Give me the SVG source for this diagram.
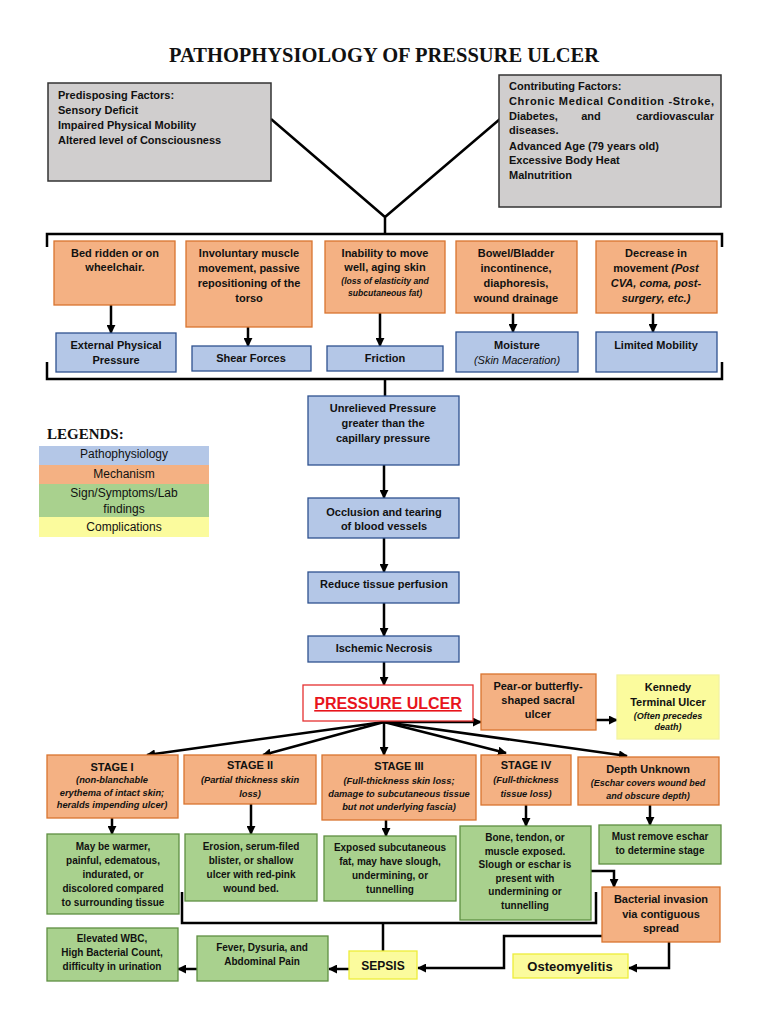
<svg xmlns="http://www.w3.org/2000/svg" width="768" height="1024" viewBox="0 0 768 1024">
<defs>
<marker id="ah" viewBox="0 0 10 10" refX="9" refY="5" markerWidth="9" markerHeight="9" markerUnits="userSpaceOnUse" orient="auto">
<path d="M0,0 L10,5 L0,10 z" fill="#000"/>
</marker>
</defs>
<style>
.gy{fill:#d0cece;stroke:#333;stroke-width:1.5}
.bl{fill:#b4c7e7;stroke:#2f528f;stroke-width:1.3}
.or{fill:#f4b183;stroke:#d9742f;stroke-width:1.3}
.gr{fill:#a9d18e;stroke:#5f8f43;stroke-width:1.3}
.ye{fill:#fbfb9d;stroke:#eded3a;stroke-width:1.3}
.pu{fill:#fff;stroke:#e53030;stroke-width:1.3}
text{font-family:"Liberation Sans",Arial,sans-serif;fill:#111}
.t{font-size:11px;font-weight:bold;text-anchor:middle}
.s{font-size:10px;font-weight:bold;text-anchor:middle}
.l{font-size:11px;font-weight:bold}
.i{font-size:9.3px;font-weight:bold;font-style:italic;text-anchor:middle}
.lg{font-size:12px;text-anchor:middle}
.cn{fill:none;stroke:#000;stroke-width:2.5}
.ar{fill:none;stroke:#000;stroke-width:2.5;marker-end:url(#ah)}
</style>
<rect width="768" height="1024" fill="#fff"/>
<text x="384" y="62" text-anchor="middle" style="font-family:'Liberation Serif','Times New Roman',serif;font-size:20.5px;font-weight:bold">PATHOPHYSIOLOGY OF PRESSURE ULCER</text>

<g id="connectors">
<path class="cn" d="M271,119 L385,217 L500,119 M385,217 V234"/>
<path class="cn" d="M47,247 V234 H722 V247"/>
<path class="cn" d="M47,362 V379 H722 V362 M385,379 V396"/>
<path class="ar" d="M111,305 V333"/>
<path class="ar" d="M248,327 V346"/>
<path class="ar" d="M380,313 V346"/>
<path class="ar" d="M513,313 V332"/>
<path class="ar" d="M653,313 V332"/>
<path class="ar" d="M384,465 V498"/>
<path class="ar" d="M384,538 V572"/>
<path class="ar" d="M384,603 V636"/>
<path class="ar" d="M384,662 V685"/>
<path class="ar" d="M384,722 L147,755"/>
<path class="ar" d="M384,722 L263,755"/>
<path class="ar" d="M384,722 V755"/>
<path class="ar" d="M384,722 L506,753"/>
<path class="ar" d="M384,722 L627,756"/>
<path class="ar" d="M384,722 H481"/>
<path class="ar" d="M596,720 H617"/>
<path class="ar" d="M112,818 V834"/>
<path class="ar" d="M251,804 V834"/>
<path class="ar" d="M386,820 V836"/>
<path class="ar" d="M526,805 V826"/>
<path class="ar" d="M650,805 V825"/>
<path class="ar" d="M591,871 H614 V887"/>
<path class="cn" d="M182,892 V923 H596 V892 M383,923 V951"/>
<path class="ar" d="M349,969 H329"/>
<path class="ar" d="M197,969 H178"/>
<path class="ar" d="M602,936 H504 V968 H418"/>
<path class="ar" d="M669,942 V968 H629"/>
</g>

<g id="predisposing">
<rect class="gy" x="48" y="83" width="223" height="98"/>
<text class="l" x="58" y="99">Predisposing Factors:</text>
<text class="l" x="58" y="114">Sensory Deficit</text>
<text class="l" x="58" y="129">Impaired Physical Mobility</text>
<text class="l" x="58" y="144">Altered level of Consciousness</text>
</g>
<g id="contributing">
<rect class="gy" x="499" y="75" width="222" height="132"/>
<text class="l" x="509" y="90">Contributing Factors:</text>
<text class="l" x="509" y="105" textLength="205" lengthAdjust="spacing">Chronic Medical Condition -Stroke,</text>
<text class="l" x="509" y="120">Diabetes,</text>
<text class="l" x="591" y="120" text-anchor="middle">and</text>
<text class="l" x="714" y="120" text-anchor="end">cardiovascular</text>
<text class="l" x="509" y="134">diseases.</text>
<text class="l" x="509" y="150">Advanced Age (79 years old)</text>
<text class="l" x="509" y="164">Excessive Body Heat</text>
<text class="l" x="509" y="179">Malnutrition</text>
</g>

<g id="bedridden">
<rect class="or" x="54" y="241" width="121" height="64"/>
<text class="t" x="115" y="257">Bed ridden or on</text>
<text class="t" x="115" y="271">wheelchair.</text>
</g>
<g id="involuntary">
<rect class="or" x="186" y="241" width="126" height="86"/>
<text class="t" x="249" y="257">Involuntary muscle</text>
<text class="t" x="249" y="272">movement, passive</text>
<text class="t" x="249" y="287">repositioning of the</text>
<text class="t" x="249" y="302">torso</text>
</g>
<g id="inability">
<rect class="or" x="325" y="241" width="120" height="72"/>
<text class="t" x="385" y="257">Inability to move</text>
<text class="t" x="385" y="271">well, aging skin</text>
<text class="i" x="385" y="284" style="font-size:8.6px">(loss of elasticity and</text>
<text class="i" x="385" y="296" style="font-size:8.6px">subcutaneous fat)</text>
</g>
<g id="bowel">
<rect class="or" x="456" y="241" width="121" height="72"/>
<text class="t" x="516" y="257">Bowel/Bladder</text>
<text class="t" x="516" y="272">incontinence,</text>
<text class="t" x="516" y="287">diaphoresis,</text>
<text class="t" x="516" y="302">wound drainage</text>
</g>
<g id="decrease">
<rect class="or" x="596" y="241" width="121" height="72"/>
<text class="t" x="656" y="257">Decrease in</text>
<text class="t" x="656" y="272">movement <tspan font-style="italic">(Post</tspan></text>
<text class="t" x="656" y="287" font-style="italic">CVA, coma, post-</text>
<text class="t" x="656" y="302" font-style="italic">surgery, etc.)</text>
</g>

<g id="external">
<rect class="bl" x="56" y="333" width="120" height="39"/>
<text class="t" x="116" y="349">External Physical</text>
<text class="t" x="116" y="364">Pressure</text>
</g>
<g id="shear">
<rect class="bl" x="192" y="346" width="119" height="25"/>
<text class="t" x="251" y="362">Shear Forces</text>
</g>
<g id="friction">
<rect class="bl" x="327" y="346" width="116" height="25"/>
<text class="t" x="385" y="362">Friction</text>
</g>
<g id="moisture">
<rect class="bl" x="456" y="332" width="122" height="40"/>
<text class="t" x="517" y="349">Moisture</text>
<text x="517" y="364" text-anchor="middle" style="font-size:11px;font-style:italic">(Skin Maceration)</text>
</g>
<g id="limited">
<rect class="bl" x="596" y="332" width="121" height="40"/>
<text class="t" x="656" y="349">Limited Mobility</text>
</g>

<g id="legend">
<text x="47" y="439" style="font-family:'Liberation Serif','Times New Roman',serif;font-size:15px;font-weight:bold">LEGENDS:</text>
<rect x="39" y="446" width="170" height="19" fill="#b4c7e7"/>
<rect x="39" y="465" width="170" height="19" fill="#f4b183"/>
<rect x="39" y="484" width="170" height="33" fill="#a9d18e"/>
<rect x="39" y="517" width="170" height="20" fill="#fbfb9d"/>
<text class="lg" x="124" y="458">Pathophysiology</text>
<text class="lg" x="124" y="478">Mechanism</text>
<text class="lg" x="124" y="497">Sign/Symptoms/Lab</text>
<text class="lg" x="124" y="513">findings</text>
<text class="lg" x="124" y="531">Complications</text>
</g>

<g id="unrelieved">
<rect class="bl" x="308" y="396" width="151" height="69"/>
<text class="t" x="383" y="412">Unrelieved Pressure</text>
<text class="t" x="383" y="427">greater than the</text>
<text class="t" x="383" y="442">capillary pressure</text>
</g>
<g id="occlusion">
<rect class="bl" x="308" y="498" width="151" height="40"/>
<text class="t" x="384" y="516">Occlusion and tearing</text>
<text class="t" x="384" y="530">of blood vessels</text>
</g>
<g id="reduce">
<rect class="bl" x="308" y="572" width="151" height="31"/>
<text class="t" x="384" y="588">Reduce tissue perfusion</text>
</g>
<g id="ischemic">
<rect class="bl" x="308" y="636" width="151" height="26"/>
<text class="t" x="384" y="652">Ischemic Necrosis</text>
</g>
<g id="pressureulcer">
<rect class="pu" x="303" y="685" width="170" height="36"/>
<text x="388" y="709" text-anchor="middle" text-decoration="underline" style="font-size:16px;font-weight:bold;fill:#e8141c">PRESSURE ULCER</text>
</g>
<g id="pear">
<rect class="or" x="481" y="674" width="115" height="56"/>
<text class="t" x="538" y="690">Pear-or butterfly-</text>
<text class="t" x="538" y="704">shaped sacral</text>
<text class="t" x="538" y="718">ulcer</text>
</g>
<g id="kennedy">
<rect class="ye" x="617" y="675" width="102" height="64" style="stroke:#f3f3a0"/>
<text class="t" x="668" y="691">Kennedy</text>
<text class="t" x="668" y="706">Terminal Ulcer</text>
<text class="i" x="668" y="719" style="font-size:9px">(Often precedes</text>
<text class="i" x="668" y="730" style="font-size:9px">death)</text>
</g>

<g id="stage1">
<rect class="or" x="47" y="755" width="131" height="63"/>
<text class="t" x="112" y="771">STAGE I</text>
<text class="i" x="112" y="783">(non-blanchable</text>
<text class="i" x="112" y="796">erythema of intact skin;</text>
<text class="i" x="112" y="808">heralds impending ulcer)</text>
</g>
<g id="stage2">
<rect class="or" x="184" y="755" width="132" height="49"/>
<text class="t" x="250" y="769">STAGE II</text>
<text class="i" x="250" y="783">(Partial thickness skin</text>
<text class="i" x="250" y="797">loss)</text>
</g>
<g id="stage3">
<rect class="or" x="322" y="755" width="154" height="65"/>
<text class="t" x="399" y="770">STAGE III</text>
<text class="i" x="399" y="784">(Full-thickness skin loss;</text>
<text class="i" x="399" y="797">damage to subcutaneous tissue</text>
<text class="i" x="399" y="810">but not underlying fascia)</text>
</g>
<g id="stage4">
<rect class="or" x="481" y="755" width="90" height="50"/>
<text class="t" x="526" y="769">STAGE IV</text>
<text class="i" x="526" y="783">(Full-thickness</text>
<text class="i" x="526" y="797">tissue loss)</text>
</g>
<g id="depth">
<rect class="or" x="578" y="757" width="141" height="48"/>
<text class="t" x="648" y="773">Depth Unknown</text>
<text class="i" x="648" y="786" style="font-size:9px">(Eschar covers wound bed</text>
<text class="i" x="648" y="799" style="font-size:9px">and obscure depth)</text>
</g>

<g id="sign1">
<rect class="gr" x="47" y="834" width="132" height="80"/>
<text class="s" x="113" y="850">May be warmer,</text>
<text class="s" x="113" y="864">painful, edematous,</text>
<text class="s" x="113" y="878">indurated, or</text>
<text class="s" x="113" y="892">discolored compared</text>
<text class="s" x="113" y="906">to surrounding tissue</text>
</g>
<g id="sign2">
<rect class="gr" x="185" y="834" width="132" height="67"/>
<text class="s" x="251" y="850">Erosion, serum-filed</text>
<text class="s" x="251" y="864">blister, or shallow</text>
<text class="s" x="251" y="878">ulcer with red-pink</text>
<text class="s" x="251" y="892">wound bed.</text>
</g>
<g id="sign3">
<rect class="gr" x="324" y="836" width="132" height="65"/>
<text class="s" x="390" y="851">Exposed subcutaneous</text>
<text class="s" x="390" y="865">fat, may have slough,</text>
<text class="s" x="390" y="879">undermining, or</text>
<text class="s" x="390" y="893">tunnelling</text>
</g>
<g id="sign4">
<rect class="gr" x="460" y="826" width="131" height="94"/>
<text class="s" x="525" y="841">Bone, tendon, or</text>
<text class="s" x="525" y="855">muscle exposed.</text>
<text class="s" x="525" y="868">Slough or eschar is</text>
<text class="s" x="525" y="882">present with</text>
<text class="s" x="525" y="895">undermining or</text>
<text class="s" x="525" y="909">tunnelling</text>
</g>
<g id="sign5">
<rect class="gr" x="599" y="825" width="122" height="39"/>
<text class="s" x="660" y="840">Must remove eschar</text>
<text class="s" x="660" y="854">to determine stage</text>
</g>
<g id="bacterial">
<rect class="or" x="602" y="887" width="118" height="55"/>
<text class="t" x="661" y="903">Bacterial invasion</text>
<text class="t" x="661" y="918">via contiguous</text>
<text class="t" x="661" y="932">spread</text>
</g>
<g id="elevated">
<rect class="gr" x="47" y="928" width="131" height="53"/>
<text class="s" x="112" y="942">Elevated WBC,</text>
<text class="s" x="112" y="956">High Bacterial Count,</text>
<text class="s" x="112" y="970">difficulty in urination</text>
</g>
<g id="fever">
<rect class="gr" x="197" y="936" width="131" height="45"/>
<text class="s" x="262" y="951">Fever, Dysuria, and</text>
<text class="s" x="262" y="965">Abdominal Pain</text>
</g>
<g id="sepsis">
<rect class="ye" x="349" y="951" width="68" height="28"/>
<text class="t" x="383" y="970" style="font-size:12px">SEPSIS</text>
</g>
<g id="osteomyelitis">
<rect class="ye" x="513" y="954" width="115" height="24"/>
<text class="t" x="570" y="971" style="font-size:13px">Osteomyelitis</text>
</g>
</svg>
